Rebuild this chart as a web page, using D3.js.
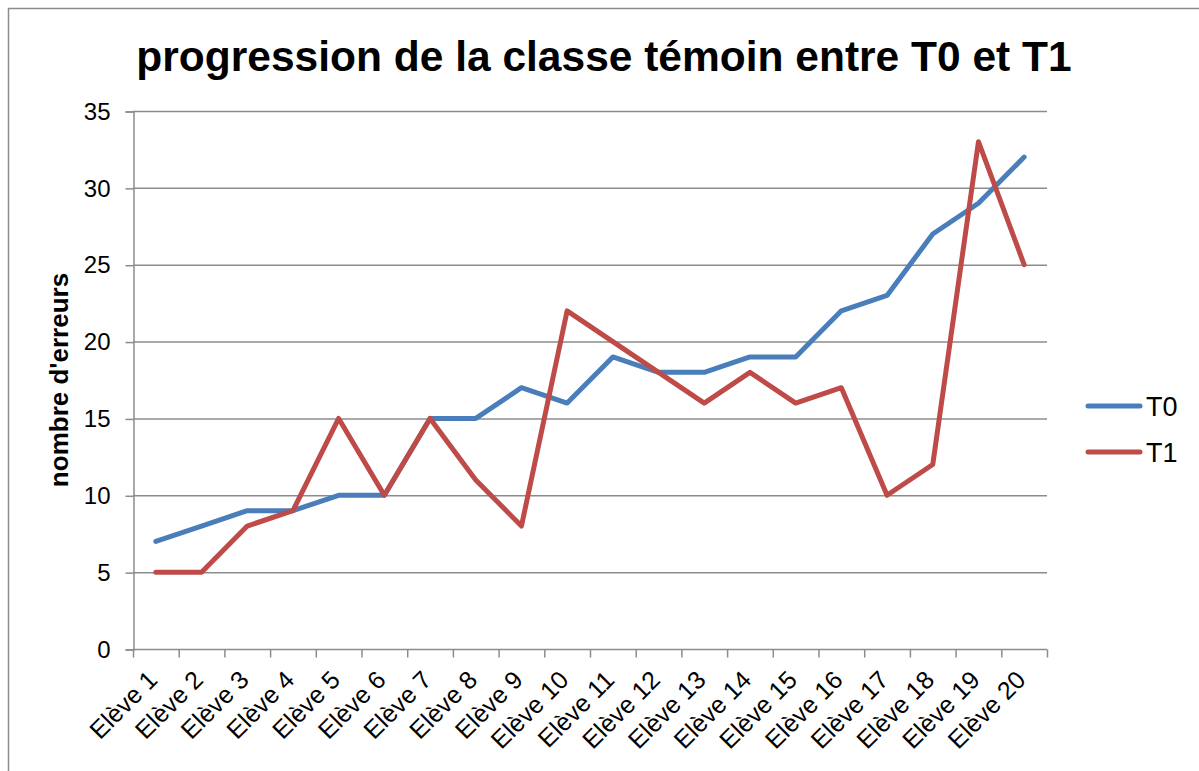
<!DOCTYPE html>
<html>
<head>
<meta charset="utf-8">
<style>
body { margin: 0; background: #fff; }
svg { font-family: "Liberation Sans", Arial, sans-serif; }
</style>
</head>
<body>
<script src="https://d3js.org/d3.v7.min.js"></script>
<div id="chart"></div>
<script>
// chart data
var students = ["Elève 1","Elève 2","Elève 3","Elève 4","Elève 5","Elève 6","Elève 7","Elève 8","Elève 9","Elève 10",
                "Elève 11","Elève 12","Elève 13","Elève 14","Elève 15","Elève 16","Elève 17","Elève 18","Elève 19","Elève 20"];
var t0 = [7, 8, 9, 9, 10, 10, 15, 15, 17, 16, 19, 18, 18, 19, 19, 22, 23, 27, 29, 32];
var t1 = [5, 5, 8, 9, 15, 10, 15, 11, 8, 22, 20, 18, 16, 18, 16, 17, 10, 12, 33, 25];
var seriesNames = ["T0", "T1"];
var seriesColors = ["#4a7ebb", "#be4b48"];
var yTicks = [0, 5, 10, 15, 20, 25, 30, 35];

var W = 1199, H = 771;
var m = {left: 133, right: 1047, top: 111, bottom: 649};

var svg = d3.select("#chart").append("svg")
  .attr("width", W).attr("height", H);

// outer chart border
svg.append("rect")
  .attr("x", 8.5).attr("y", 8.5)
  .attr("width", W + 20).attr("height", H + 20)
  .attr("fill", "none").attr("stroke", "#8c8c8c").attr("stroke-width", 1.5);

var x = d3.scaleBand().domain(students).range([m.left, m.right]);
var y = d3.scaleLinear().domain([0, 35]).range([m.bottom, m.top]);

// gridlines
svg.append("g").selectAll("line")
  .data(yTicks.filter(function(d) { return d > 0; }))
  .join("line")
    .attr("x1", m.left).attr("x2", m.right)
    .attr("y1", function(d) { return y(d) + 0.5; })
    .attr("y2", function(d) { return y(d) + 0.5; })
    .attr("stroke", "#8c8c8c").attr("stroke-width", 1.5);

// y axis
var yAxis = svg.append("g")
  .attr("transform", "translate(" + (m.left + 0.5) + ",0.5)")
  .call(d3.axisLeft(y).tickValues(yTicks).tickSize(8).tickPadding(15));
yAxis.select(".domain").attr("stroke", "#8c8c8c").attr("stroke-width", 1.5);
yAxis.selectAll(".tick line").attr("stroke", "#8c8c8c").attr("stroke-width", 1.5);
yAxis.selectAll("text").attr("font-size", 24).attr("fill", "#000")
  .attr("font-family", "Liberation Sans, Arial, sans-serif");

// x axis: ticks at category boundaries
var xg = svg.append("g").attr("transform", "translate(0," + (m.bottom + 0.5) + ")");
xg.append("line").attr("x1", m.left).attr("x2", m.right)
  .attr("stroke", "#8c8c8c").attr("stroke-width", 1.5);
var bounds = students.map(function(d) { return x(d); }).concat([m.right]);
xg.selectAll("line.tk").data(bounds).join("line")
  .attr("class", "tk")
  .attr("x1", function(d) { return d + 0.5; }).attr("x2", function(d) { return d + 0.5; })
  .attr("y1", 0).attr("y2", 8)
  .attr("stroke", "#8c8c8c").attr("stroke-width", 1.5);
xg.selectAll("text").data(students).join("text")
  .attr("transform", function(d) {
    return "translate(" + (x(d) + x.bandwidth() / 2 + 3) + ",32) rotate(-45)";
  })
  .attr("text-anchor", "end")
  .attr("font-size", 25)
  .attr("fill", "#000")
  .text(function(d) { return d; });

// lines
var line = d3.line()
  .x(function(d, i) { return x(students[i]) + x.bandwidth() / 2; })
  .y(function(d) { return y(d); });

[t0, t1].forEach(function(s, i) {
  svg.append("path")
    .datum(s)
    .attr("d", line)
    .attr("fill", "none")
    .attr("stroke", seriesColors[i])
    .attr("stroke-width", 5)
    .attr("stroke-linejoin", "round")
    .attr("stroke-linecap", "round");
});

// title
svg.append("text")
  .attr("x", 604).attr("y", 71)
  .attr("text-anchor", "middle")
  .attr("font-size", 42.5).attr("font-weight", "bold")
  .text("progression de la classe témoin entre T0 et T1");

// y axis title
svg.append("text")
  .attr("transform", "translate(68,380) rotate(-90)")
  .attr("text-anchor", "middle")
  .attr("font-size", 26).attr("font-weight", "bold")
  .text("nombre d'erreurs");

// legend
var leg = svg.append("g");
seriesNames.forEach(function(n, i) {
  var ly = 406 + i * 46;
  leg.append("line")
    .attr("x1", 1088).attr("x2", 1140).attr("y1", ly).attr("y2", ly)
    .attr("stroke", seriesColors[i]).attr("stroke-width", 5)
    .attr("stroke-linecap", "round");
  leg.append("text")
    .attr("x", 1146).attr("y", ly + 10)
    .attr("font-size", 27)
    .text(n);
});
</script>
</body>
</html>
